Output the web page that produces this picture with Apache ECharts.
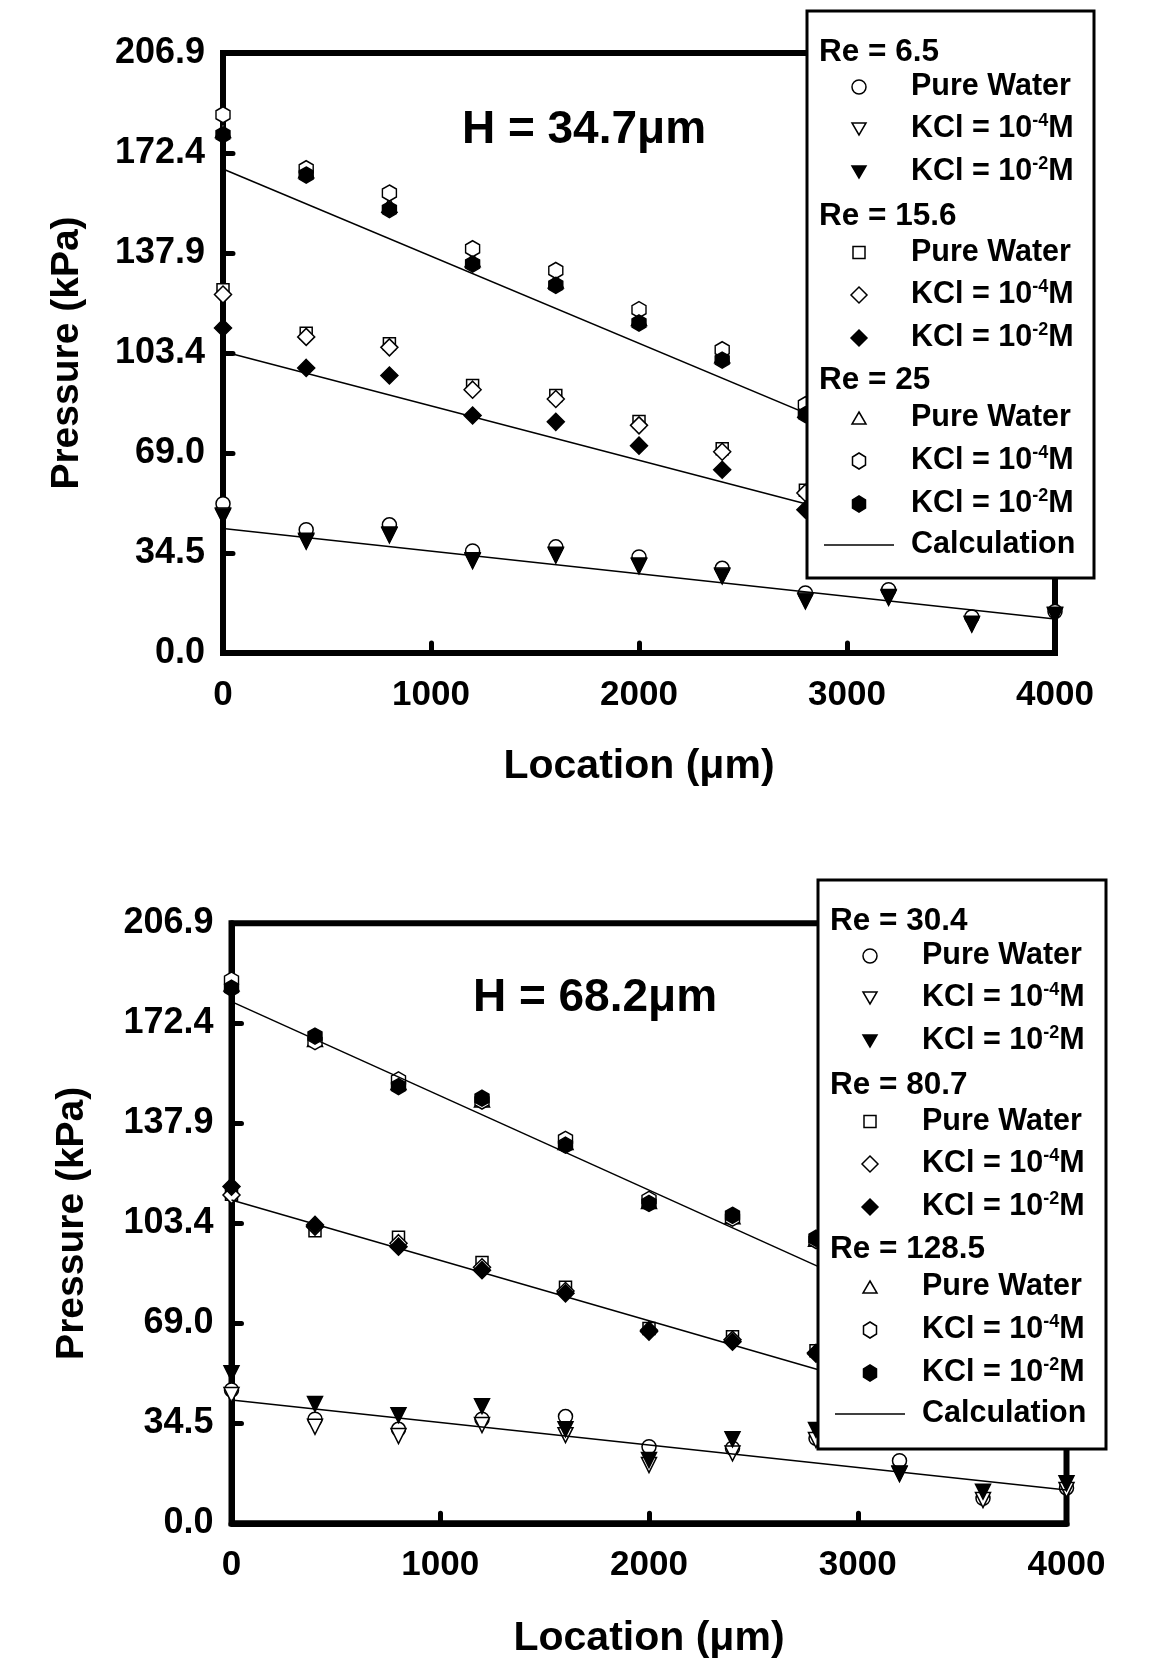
<!DOCTYPE html>
<html>
<head>
<meta charset="utf-8">
<script src="https://cdn.jsdelivr.net/npm/echarts@6/dist/echarts.min.js"></script>
<style>
  html, body { margin: 0; padding: 0; background: #fff; }
  #chart { width: 1151px; height: 1661px; }
</style>
</head>
<body>
<div id="chart"></div>
<script>
// measurement locations along the channel (µm)
const locations = [0, 400, 800, 1200, 1600, 2000, 2400, 2800, 3200, 3600, 4000];
const calcX = [0, 4000];
const yTickLabels = ['0.0', '34.5', '69.0', '103.4', '137.9', '172.4', '206.9'];

// ---- H = 34.7 um (pressure in kPa) ----
const h1_re65_water = [51.5, 42.5, 44.2, 35.2, 36.6, 33.1, 29.2, 20.7, 21.8, 12.4, 14.3];
const h1_re65_kcl4  = [47.4, 38.7, 40.9, 32.0, 33.9, 30.2, 26.7, 18.1, 19.3, 10.1, 13.2];
const h1_re65_kcl2  = [47.1, 38.4, 40.6, 31.7, 33.6, 29.9, 26.4, 17.8, 19.0, 9.8, 12.9];
const h1_re156_water = [125.3, 110.3, 106.6, 92.2, 88.8, 79.8, 70.4, 56.1];
const h1_re156_kcl4  = [123.6, 109.0, 105.4, 90.8, 87.6, 78.5, 69.4, 55.2];
const h1_re156_kcl2  = [112.1, 98.3, 95.7, 81.9, 79.7, 71.5, 63.2, 49.4];
const h1_re25_water = [180.2, 166.3, 154.4, 135.6, 128.3, 115.3, 102.5, 83.7];
const h1_re25_kcl4  = [185.6, 167.0, 158.6, 139.4, 131.9, 118.4, 104.6, 85.6];
const h1_re25_kcl2  = [178.7, 164.8, 152.9, 134.1, 126.8, 113.8, 101.0, 82.2];
const h1_calc_re65 = [42.9, 11.7];
const h1_calc_re156 = [104.0, 29.0];
const h1_calc_re25 = [166.9, 46.7];

// ---- H = 68.2 um (pressure in kPa) ----
const h2_re304_water = [46.0, 35.9, 32.4, 35.9, 36.8, 26.4, 25.9, 29.3, 21.6, 8.6, 12.2];
const h2_re304_kcl4  = [44.2, 33.3, 30.1, 33.9, 30.4, 20.1, 24.1, 28.7, 17.0, 8.0, 11.5];
const h2_re304_kcl2  = [51.7, 41.1, 37.3, 40.4, 32.4, 21.8, 29.0, 32.2, 17.2, 10.9, 13.8];
const h2_re807_water = [113.5, 100.9, 98.6, 89.9, 81.4, 67.2, 64.3, 59.5];
const h2_re807_kcl4  = [113.2, 102.3, 96.6, 88.3, 80.1, 66.6, 63.3, 58.8];
const h2_re807_kcl2  = [116.1, 102.9, 95.4, 87.3, 79.3, 66.1, 62.6, 58.5];
const h2_re1285_water = [186.0, 166.8, 152.0, 146.0, 131.3, 111.0, 105.7, 97.9];
const h2_re1285_kcl4  = [187.3, 166.1, 152.9, 145.6, 132.4, 111.7, 105.2, 97.5];
const h2_re1285_kcl2  = [184.5, 168.0, 150.6, 146.6, 130.4, 110.3, 106.2, 98.3];
const h2_calc_re304 = [42.5, 11.5];
const h2_calc_re807 = [111.5, 28.2];
const h2_calc_re1285 = [179.9, 49.9];

const itemLabels = ['{a|Pure Water}', '{a|KCl = 10}{s|-4}{a|M}', '{a|KCl = 10}{s|-2}{a|M}'];
const h1_groups = ['Re = 6.5', 'Re = 15.6', 'Re = 25'];
const h2_groups = ['Re = 30.4', 'Re = 80.7', 'Re = 128.5'];

const FONT = "'Liberation Sans', Arial, Helvetica, sans-serif";
const yMax = 206.9;
const yStep = yMax / 6;

// marker look per group (row) and item (column)
const HEX = 'path://M0,-1 L0.866,-0.5 L0.866,0.5 L0,1 L-0.866,0.5 L-0.866,-0.5 Z';
const DOWN = 'path://M0,0 L2,0 L1,2 Z';
const UP = 'path://M1,0 L2,2 L0,2 Z';
const markers = [
    [{ s: 'circle', size: 14, fill: false, g: 'circle' },
     { s: DOWN, size: [15, 15], fill: false, g: 'down' },
     { s: DOWN, size: [15, 15], fill: true, g: 'down' }],
    [{ s: 'rect', size: 12, fill: false, g: 'square' },
     { s: 'diamond', size: [17, 17], fill: false, g: 'diamond' },
     { s: 'diamond', size: [17, 17], fill: true, g: 'diamond' }],
    [{ s: UP, size: [15, 14], fill: false, g: 'up' },
     { s: HEX, size: [14, 16], fill: false, g: 'hex' },
     { s: HEX, size: [14, 16], fill: true, g: 'hex' }]
];

function pts(xs, ys) {
    return ys.map((v, i) => [xs[i], v]);
}

function scatter(idx, m, values) {
    return {
        type: 'scatter',
        xAxisIndex: idx, yAxisIndex: idx,
        symbol: m.s, symbolSize: m.size,
        itemStyle: { color: m.fill ? '#000' : '#fff', borderColor: '#000', borderWidth: 1.5, opacity: 1 },
        emphasis: { disabled: true },
        data: pts(locations, values)
    };
}

function calcLine(idx, values) {
    return {
        type: 'line',
        xAxisIndex: idx, yAxisIndex: idx,
        symbol: 'none',
        lineStyle: { color: '#000', width: 1.5 },
        emphasis: { disabled: true },
        data: pts(calcX, values)
    };
}

function glyph(kind, fill, cx, cy) {
    const style = { fill: fill ? '#000' : '#fff', stroke: '#000', lineWidth: 1.5 };
    let el;
    if (kind === 'circle') el = { type: 'circle', shape: { cx: cx, cy: cy, r: 7 } };
    else if (kind === 'square') el = { type: 'rect', shape: { x: cx - 6, y: cy - 6, width: 12, height: 12 } };
    else if (kind === 'down') el = { type: 'polygon', shape: { points: [[cx - 7, cy - 6], [cx + 7, cy - 6], [cx, cy + 6]] } };
    else if (kind === 'up') el = { type: 'polygon', shape: { points: [[cx, cy - 6], [cx + 7, cy + 6], [cx - 7, cy + 6]] } };
    else if (kind === 'diamond') el = { type: 'polygon', shape: { points: [[cx, cy - 8], [cx + 8, cy], [cx, cy + 8], [cx - 8, cy]] } };
    else el = { type: 'polygon', shape: { points: [[cx, cy - 8], [cx + 6.5, cy - 4], [cx + 6.5, cy + 4], [cx, cy + 8], [cx - 6.5, cy + 4], [cx - 6.5, cy - 4]] } };
    el.style = style;
    el.z = 101;
    return el;
}

function label(x, y, txt, size) {
    return {
        type: 'text', x: x, y: y, z: 102,
        style: {
            text: txt, fill: '#000', align: 'left', verticalAlign: 'middle',
            fontSize: size, fontWeight: 'bold', fontFamily: FONT,
            rich: {
                a: { fontSize: 30.5, fontWeight: 'bold', fontFamily: FONT, lineHeight: 34, fill: '#000' },
                s: { fontSize: 18, fontWeight: 'bold', fontFamily: FONT, verticalAlign: 'top', fill: '#000' }
            }
        }
    };
}

function legendBox(bx, by, bw, bh, groups) {
    const rows = [41, 76, 118, 161, 205, 241.5, 284, 327, 369, 407, 450, 493, 534];
    const els = [{
        type: 'rect', z: 100,
        shape: { x: bx, y: by, width: bw, height: bh },
        style: { fill: '#fff', stroke: '#000', lineWidth: 3 }
    }];
    let r = 0;
    groups.forEach((title, g) => {
        els.push(label(bx + 12, by + rows[r++], title, 31.5));
        itemLabels.forEach((lab, i) => {
            const y = by + rows[r++];
            els.push(glyph(markers[g][i].g, markers[g][i].fill, bx + 52, y));
            els.push(label(bx + 104, y, lab, 30.5));
        });
    });
    const cy = by + rows[r];
    els.push({ type: 'line', z: 101, shape: { x1: bx + 17, y1: cy, x2: bx + 87, y2: cy },
               style: { stroke: '#000', lineWidth: 1.5 } });
    els.push(label(bx + 104, cy, 'Calculation', 30.5));
    return els;
}

function titleText(x, y, txt) {
    return {
        type: 'text', x: x, y: y, z: 50,
        style: { text: txt, fill: '#000', align: 'center', verticalAlign: 'middle',
                 fontSize: 46, fontWeight: 'bold', fontFamily: FONT }
    };
}

function xAxis(idx, gap) {
    return {
        type: 'value', gridIndex: idx, min: 0, max: 4000, interval: 1000,
        name: 'Location (μm)', nameLocation: 'middle', nameGap: gap,
        nameTextStyle: { fontSize: 41, fontWeight: 'bold', fontFamily: FONT, color: '#000' },
        axisLine: { show: true, lineStyle: { color: '#000', width: 6 } },
        axisTick: { show: true, inside: true, length: 10, lineStyle: { color: '#000', width: 5, cap: 'round' } },
        axisLabel: {
            margin: 25, fontSize: 35, fontWeight: 'bold', fontFamily: FONT, color: '#000',
            formatter: v => String(v)
        },
        splitLine: { show: false }
    };
}

function yAxis(idx, gap) {
    return {
        type: 'value', gridIndex: idx, min: 0, max: yMax, interval: yStep,
        name: 'Pressure (kPa)', nameLocation: 'middle', nameGap: gap, nameRotate: 90,
        nameTextStyle: { fontSize: 39, fontWeight: 'bold', fontFamily: FONT, color: '#000' },
        axisLine: { show: true, lineStyle: { color: '#000', width: 6 } },
        axisTick: { show: true, inside: true, length: 10, lineStyle: { color: '#000', width: 5, cap: 'round' } },
        axisLabel: {
            margin: 18, fontSize: 36, fontWeight: 'bold', fontFamily: FONT, color: '#000',
            formatter: v => yTickLabels[Math.round(v / yStep)]
        },
        splitLine: { show: false }
    };
}

const chart = echarts.init(document.getElementById('chart'), null, { renderer: 'canvas' });

const option = {
    animation: false,
    backgroundColor: '#fff',
    grid: [
        { left: 223, top: 53, width: 832, height: 600, show: true, borderColor: '#000', borderWidth: 6,
          backgroundColor: 'transparent', containLabel: false, outerBoundsMode: 'none' },
        { left: 231.5, top: 923.3, width: 835, height: 600, show: true, borderColor: '#000', borderWidth: 6,
          backgroundColor: 'transparent', containLabel: false, outerBoundsMode: 'none' }
    ],
    xAxis: [xAxis(0, 93), xAxis(1, 95)],
    yAxis: [yAxis(0, 136), yAxis(1, 140)],
    series: [
        calcLine(0, h1_calc_re65), calcLine(0, h1_calc_re156), calcLine(0, h1_calc_re25),
        scatter(0, markers[0][0], h1_re65_water),
        scatter(0, markers[0][1], h1_re65_kcl4),
        scatter(0, markers[0][2], h1_re65_kcl2),
        scatter(0, markers[1][0], h1_re156_water),
        scatter(0, markers[1][1], h1_re156_kcl4),
        scatter(0, markers[1][2], h1_re156_kcl2),
        scatter(0, markers[2][0], h1_re25_water),
        scatter(0, markers[2][1], h1_re25_kcl4),
        scatter(0, markers[2][2], h1_re25_kcl2),

        calcLine(1, h2_calc_re304), calcLine(1, h2_calc_re807), calcLine(1, h2_calc_re1285),
        scatter(1, markers[0][0], h2_re304_water),
        scatter(1, markers[0][1], h2_re304_kcl4),
        scatter(1, markers[0][2], h2_re304_kcl2),
        scatter(1, markers[1][0], h2_re807_water),
        scatter(1, markers[1][1], h2_re807_kcl4),
        scatter(1, markers[1][2], h2_re807_kcl2),
        scatter(1, markers[2][0], h2_re1285_water),
        scatter(1, markers[2][1], h2_re1285_kcl4),
        scatter(1, markers[2][2], h2_re1285_kcl2)
    ],
    graphic: {
        elements: [
            titleText(584, 130, 'H = 34.7μm'),
            titleText(595, 998, 'H = 68.2μm')
        ].concat(legendBox(807, 11, 287, 567, h1_groups))
         .concat(legendBox(818, 880, 288, 569, h2_groups))
    }
};

chart.setOption(option);
</script>
</body>
</html>
